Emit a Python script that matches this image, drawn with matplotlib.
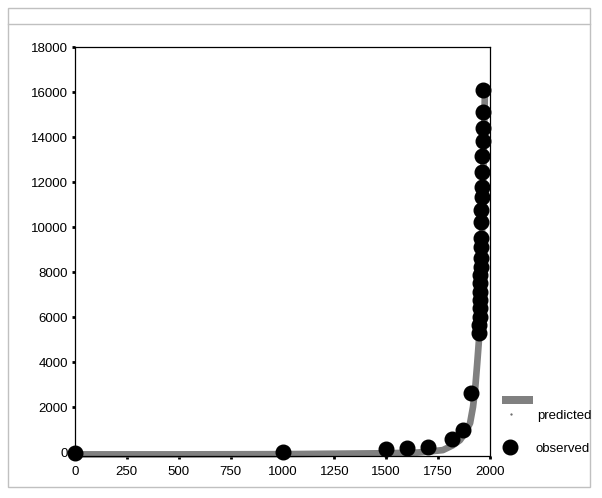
import matplotlib
matplotlib.use("Agg")
import matplotlib.pyplot as plt
from matplotlib.patches import Rectangle
from matplotlib.lines import Line2D

plt.rcParams['font.family'] = ['Liberation Sans', 'DejaVu Sans']

# predicted curve
pred_years = [0, 500, 1000, 1250, 1500, 1650, 1700, 1773, 1820, 1855, 1880, 1904,
              1918, 1928, 1938, 1947, 1955, 1962, 1968, 1972, 1976]
pred_values = [-100, -100, -90, -70, -50, -20, 20, 90, 300, 530, 850, 1290,
               2000, 2755, 3900, 5000, 7500, 10000, 12500, 14500, 16180]

# observed points
obs_years = [0, 1000, 1500, 1600, 1700, 1815, 1868, 1907,
             1948, 1949, 1950, 1951, 1952, 1953, 1953, 1954, 1955, 1955, 1956,
             1957, 1958, 1959, 1960, 1961, 1962, 1963, 1964, 1965, 1966, 1968]
obs_values = [-40, 0, 120, 165, 235, 580, 980, 2610,
              5290, 5640, 6000, 6400, 6760, 7110, 7510, 7870, 8220, 8620, 9120,
              9500, 10240, 10760, 11350, 11790, 12430, 13160, 13810, 14390, 15100, 16090]

x_ticks = [0, 250, 500, 750, 1000, 1250, 1500, 1750, 2000]
y_ticks = [0, 2000, 4000, 6000, 8000, 10000, 12000, 14000, 16000, 18000]

W, H = 602, 498
fig = plt.figure(figsize=(W / 100, H / 100), dpi=100)

def fx(px):
    return px / W

def fy(py):
    return 1 - py / H

# outer frame
fig.add_artist(Rectangle((fx(8), fy(487)), fx(590) - fx(8), fy(8) - fy(487),
                         transform=fig.transFigure, fill=False,
                         edgecolor='#c0c0c0', linewidth=1.0))
fig.add_artist(Line2D([fx(8), fx(590)], [fy(24), fy(24)], transform=fig.transFigure,
                      color='#c0c0c0', linewidth=1.0))

left, right, top, bottom = 75, 490, 47, 455.5
ax = fig.add_axes([fx(left), fy(bottom), fx(right) - fx(left), fy(top) - fy(bottom)])
ax.set_xlim(0, 2000)
ax.set_ylim(-150, 18000)

ax.plot(pred_years, pred_values, color='#808080', linewidth=4.8,
        solid_capstyle='butt', zorder=2, clip_on=False)
ax.plot(obs_years, obs_values, linestyle='none', marker='o', markersize=10.5,
        markerfacecolor='black', markeredgecolor='black', zorder=3, clip_on=False)

ax.set_xticks(x_ticks)
ax.set_yticks(y_ticks)
ax.set_xticklabels([str(v) for v in x_ticks])
ax.set_yticklabels([str(v) for v in y_ticks])
ax.tick_params(axis='y', direction='out', length=2.5, width=2, pad=2.5,
               labelsize=9.5, colors='black')
ax.tick_params(axis='x', direction='out', length=2.5, width=2, pad=5,
               labelsize=9.5, colors='black')
for s in ax.spines.values():
    s.set_linewidth(0.9)
    s.set_color('black')

# legend (drawn manually to mimic layout)
fig.add_artist(Rectangle((fx(502), fy(404)), fx(533) - fx(502), fy(396) - fy(404),
                         transform=fig.transFigure, facecolor='#808080',
                         edgecolor='none'))
fig.add_artist(Line2D([fx(511)], [fy(414)], transform=fig.transFigure, marker='o',
                      markersize=0.6, color='#606060', linestyle='none'))
fig.text(fx(537), fy(416), 'predicted', fontsize=9.5, va='center', ha='left')
fig.add_artist(Line2D([fx(510)], [fy(447)], transform=fig.transFigure, marker='o',
                      markersize=10.5, color='black', linestyle='none'))
fig.text(fx(535), fy(449), 'observed', fontsize=9.5, va='center', ha='left')

fig.savefig('out.png', dpi=100)
